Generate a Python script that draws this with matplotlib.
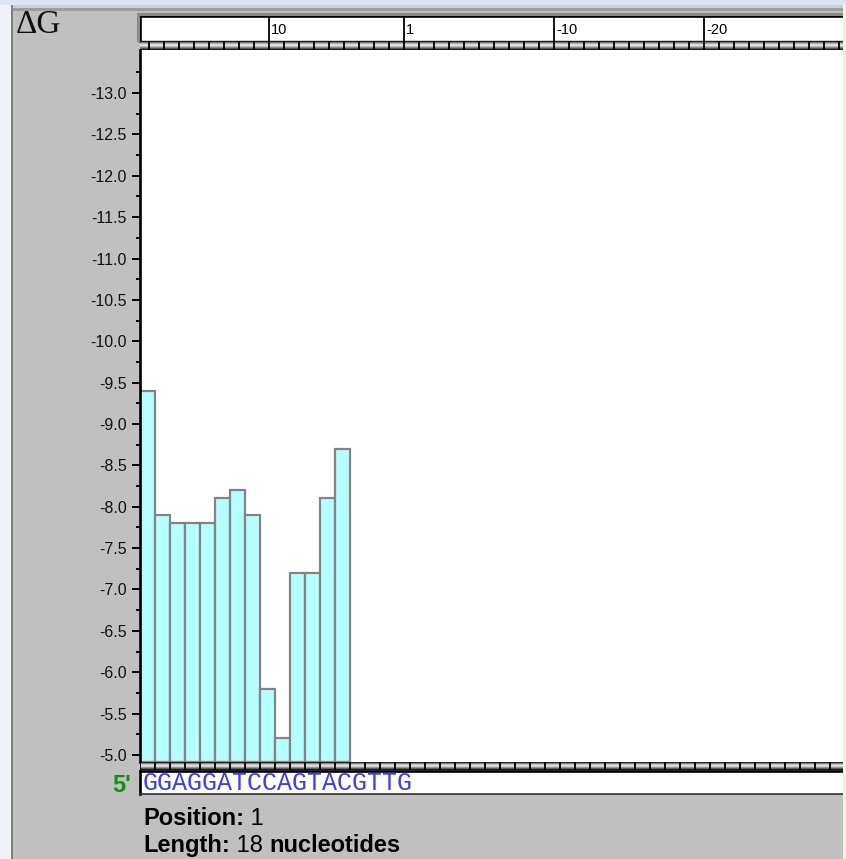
import numpy as np
import matplotlib
matplotlib.use('Agg')
import matplotlib.pyplot as plt
from matplotlib.colors import LinearSegmentedColormap
from matplotlib.patches import Rectangle

plt.rcParams['axes.unicode_minus'] = False
plt.rcParams['font.family'] = ['Liberation Sans', 'DejaVu Sans']

# free energy per window (kcal/mol)
dg_values = [-9.4, -7.9, -7.8, -7.8, -7.8, -8.1, -8.2, -7.9, -5.8, -5.2, -7.2, -7.2, -8.1, -8.7]
sequence = "GGAGGATCCAGTACGTTG"
ytick_major = [-13.0, -12.5, -12.0, -11.5, -11.0, -10.5, -10.0, -9.5, -9.0,
               -8.5, -8.0, -7.5, -7.0, -6.5, -6.0, -5.5, -5.0]
ruler_labels = ['10', '1', '-10', '-20']
ruler_x = [8.633, 17.633, 27.633, 37.633]
position = 1

W, H = 846, 859
fig = plt.figure(figsize=(W / 100, H / 100), dpi=100, facecolor='#c0c0c0')

def px_axes(x0, y0, x1, y1, z=1):
    return fig.add_axes([x0 / W, 1 - y1 / H, (x1 - x0) / W, (y1 - y0) / H], zorder=z)

XMAX = 703 / 15.0
YBOT, YTOP = -4.915, -13.52

# main bar plot
ax = px_axes(140, 50, 843, 762, z=2)
ax.set_facecolor('white')
xs = np.arange(len(dg_values))
heights = np.array(dg_values) - YBOT
ax.bar(xs, heights, width=1.0, bottom=YBOT, align='edge',
       color='#b6ffff', edgecolor='#848484', linewidth=1.6, zorder=2)
ax.set_xlim(0, XMAX)
ax.set_ylim(YBOT, YTOP)
ax.set_yticks(ytick_major)
ax.set_yticklabels(['%.1f' % v for v in ytick_major])
minor = [v - 0.25 for v in ytick_major]
ax.set_yticks(minor, minor=True)
ax.tick_params(axis='y', which='major', length=6, width=1.4, pad=3.4,
               labelsize=11.5, color='black', labelcolor='#111111')
ax.tick_params(axis='y', which='minor', length=3, width=1.4, color='black')
ax.set_xticks([])
for s in ['top', 'right', 'bottom']:
    ax.spines[s].set_visible(False)
ax.spines['left'].set_linewidth(1.9)
ax.spines['left'].set_zorder(5)

# top ruler
axr = px_axes(140, 16, 843, 41, z=3)
axr.set_facecolor('white')
axr.set_xlim(0, XMAX)
axr.set_ylim(0, 1)
axr.set_xticks([])
axr.set_yticks([])
axr.spines['right'].set_visible(False)
axr.spines['top'].set_linewidth(1.9)
axr.spines['left'].set_linewidth(1.9)
axr.spines['bottom'].set_linewidth(1.0)
for lx, lab in zip(ruler_x, ruler_labels):
    axr.axvline(lx, color='black', lw=1.3)
    axr.text(lx + 0.12, 0.42, lab, fontsize=10.5, ha='left', va='center')

# tick strips
strip_cmap = LinearSegmentedColormap.from_list(
    'strip', ['#000000', '#7c7c7c', '#d4d4d4', '#ececec', '#a4a4a4', '#5c5c5c', '#000000'])
grad = np.linspace(0, 1, 40)[:, None]

def strip(y0, y1, offset):
    a = px_axes(140, y0, 843, y1, z=3)
    a.imshow(grad, cmap=strip_cmap, aspect='auto', extent=(0, XMAX, 0, 1), origin='upper')
    a.set_xlim(0, XMAX)
    a.set_ylim(0, 1)
    for k in np.arange(offset, XMAX, 1.0):
        a.axvline(k, color='black', lw=1.3)
    a.set_xticks([])
    a.set_yticks([])
    for s in a.spines.values():
        s.set_visible(False)
    return a

strip(41, 50, 0.633)
strip(762, 770, 0.0)

# sequence box
axs = px_axes(140, 771, 843, 794, z=3)
axs.set_facecolor('white')
axs.set_xticks([])
axs.set_yticks([])
axs.spines['right'].set_visible(False)
axs.spines['top'].set_linewidth(1.9)
axs.spines['left'].set_linewidth(1.9)
axs.spines['bottom'].set_linewidth(1.2)
axs.spines['bottom'].set_color('#303030')

# window chrome and labels, in pixel coordinates
bg = fig.add_axes([0, 0, 1, 1], zorder=10)
bg.set_xlim(0, W)
bg.set_ylim(H, 0)
bg.axis('off')
bg.patch.set_visible(False)
bg.add_patch(Rectangle((0, 0), W, 4.5, color='#dce6f2', lw=0))
bg.add_patch(Rectangle((0, 4.5), W, 3.5, color='#cfcfcf', lw=0))
bg.add_patch(Rectangle((0, 8), W, 2.5, color='#9c9c9c', lw=0))
bg.add_patch(Rectangle((0, 4.5), 11, H, color='#eef2f8', lw=0))
bg.add_patch(Rectangle((11, 4.5), 1.8, H, color='#808080', lw=0))
bg.add_patch(Rectangle((843, 4.5), 3, H, color='#f3f1e2', lw=0))
bg.add_patch(Rectangle((137, 13), 3, 29, color='#8a8a8a', lw=0))
bg.add_patch(Rectangle((137, 13), 706, 3, color='#8a8a8a', lw=0))

bg.text(16, 33, '\u0394G', fontsize=24, family=['Liberation Serif', 'DejaVu Serif'],
        ha='left', va='baseline', color='#101010')
bg.text(112, 792, "5'", fontsize=17, fontweight='bold', color='#129012',
        ha='left', va='baseline')
bg.text(143, 790, sequence, fontsize=18, family=['Liberation Mono', 'DejaVu Sans Mono'],
        color='#3c3cff', ha='left', va='baseline')

t1 = bg.text(143, 825, 'Position:', fontsize=17, fontweight='bold', ha='left', va='baseline')
bg.annotate(' %d' % position, xy=(1, 0), xycoords=t1, fontsize=17, ha='left', va='bottom')
t2 = bg.text(143, 852, 'Length:', fontsize=17, fontweight='bold', ha='left', va='baseline')
t3 = bg.annotate(' %d ' % len(sequence), xy=(1, 0), xycoords=t2, fontsize=17,
                 ha='left', va='bottom')
bg.annotate('nucleotides', xy=(1, 0), xycoords=t3, fontsize=17, fontweight='bold',
            ha='left', va='bottom')

fig.savefig('out.png', dpi=100, facecolor=fig.get_facecolor())
